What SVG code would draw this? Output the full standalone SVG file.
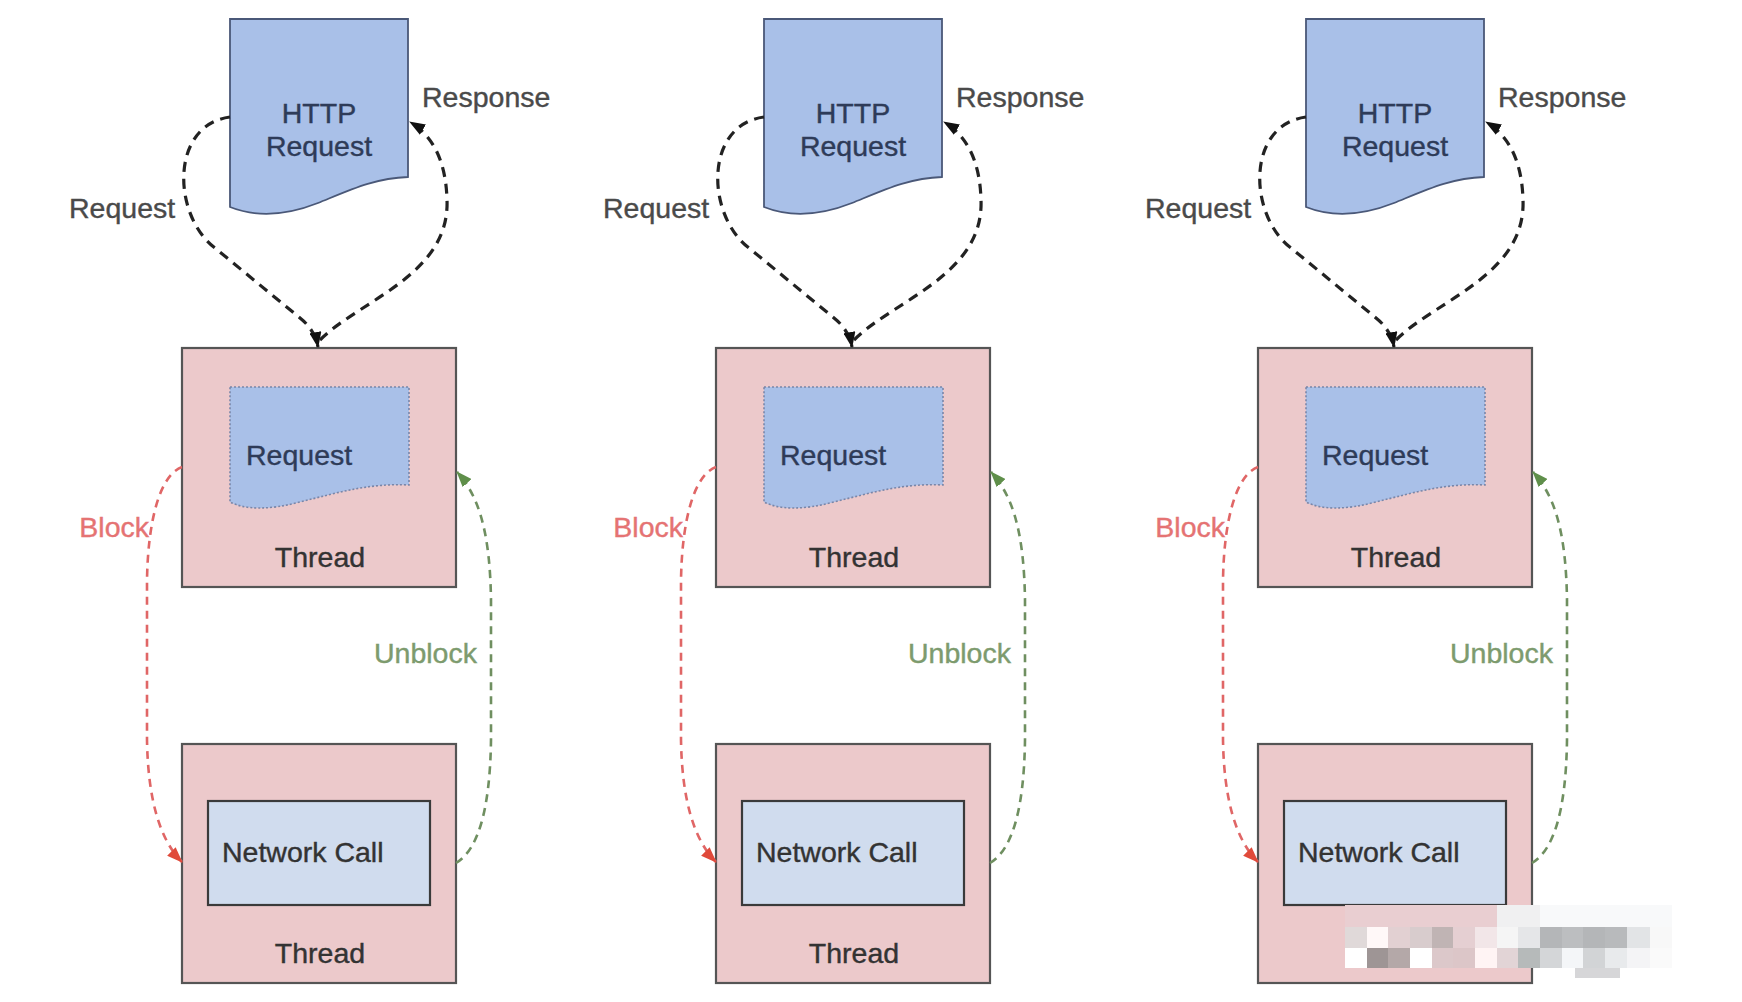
<svg xmlns="http://www.w3.org/2000/svg" width="1742" height="1002" viewBox="0 0 1742 1002">
<style>
.txt{font-family:"Liberation Sans",Arial,sans-serif;font-size:28.5px;stroke-width:0.4px}
.lbl{fill:#4a4a4a;stroke:#4a4a4a}
.navy{fill:#2e3b58;stroke:#2e3b58}
.dark{fill:#333;stroke:#333}
.red{fill:#e57373;stroke:#e57373}
.green{fill:#7d9b6e;stroke:#7d9b6e}
.doc{fill:#a9c0e8;stroke:#4a5878;stroke-width:1.8}
.idoc{fill:#a9c0e8;stroke:#7a86a8;stroke-width:1.6;stroke-dasharray:2 2}
.thread{fill:#ecc9cb;stroke:#555;stroke-width:2.2}
.net{fill:#d0dcee;stroke:#3a3a3a;stroke-width:2.2}
.cblack{fill:none;stroke:#222;stroke-width:3.2;stroke-dasharray:10 7}
.cred{fill:none;stroke:#e06666;stroke-width:2.6;stroke-dasharray:8 6}
.cgreen{fill:none;stroke:#6f8f60;stroke-width:2.6;stroke-dasharray:8 6}
</style>
<defs>
<marker id="ahBlack" markerUnits="userSpaceOnUse" markerWidth="16" markerHeight="12" refX="15" refY="6" orient="auto"><path d="M0,0 L16,6 L0,12 z" fill="#111"/></marker>
<marker id="ahRed" markerUnits="userSpaceOnUse" markerWidth="16" markerHeight="12" refX="15" refY="6" orient="auto"><path d="M0,0 L16,6 L0,12 z" fill="#e04a3a"/></marker>
<marker id="ahGreen" markerUnits="userSpaceOnUse" markerWidth="16" markerHeight="12" refX="15" refY="6" orient="auto"><path d="M0,0 L16,6 L0,12 z" fill="#5f8f4a"/></marker>
</defs>
<rect width="1742" height="1002" fill="#fff"/>

<!-- Column 1 -->
<g id="column-1">
<g id="http-request-1">
<path class="doc" d="M230,19 H408 V177 C375,178 350,190 318,203 C285,216 255,217 230,207 Z"/>
<text class="txt navy" x="319" y="123" text-anchor="middle">HTTP</text>
<text class="txt navy" x="319" y="156" text-anchor="middle">Request</text>
</g>
<g id="thread-top-1">
<rect class="thread" x="182" y="348" width="274" height="239"/>
<path class="idoc" d="M230,387 H409 V485 C370,483 340,492 300,502 C270,510 245,510 230,502 Z"/>
<text class="txt navy" x="246" y="465">Request</text>
<text class="txt dark" x="320" y="567" text-anchor="middle">Thread</text>
</g>
<g id="thread-bottom-1">
<rect class="thread" x="182" y="744" width="274" height="239"/>
<rect class="net" x="208" y="801" width="222" height="104"/>
<text class="txt dark" x="222" y="862">Network Call</text>
<text class="txt dark" x="320" y="963" text-anchor="middle">Thread</text>
</g>
</g>

<!-- Column 2 -->
<g id="column-2" transform="translate(534,0)">
<g id="http-request-2">
<path class="doc" d="M230,19 H408 V177 C375,178 350,190 318,203 C285,216 255,217 230,207 Z"/>
<text class="txt navy" x="319" y="123" text-anchor="middle">HTTP</text>
<text class="txt navy" x="319" y="156" text-anchor="middle">Request</text>
</g>
<g id="thread-top-2">
<rect class="thread" x="182" y="348" width="274" height="239"/>
<path class="idoc" d="M230,387 H409 V485 C370,483 340,492 300,502 C270,510 245,510 230,502 Z"/>
<text class="txt navy" x="246" y="465">Request</text>
<text class="txt dark" x="320" y="567" text-anchor="middle">Thread</text>
</g>
<g id="thread-bottom-2">
<rect class="thread" x="182" y="744" width="274" height="239"/>
<rect class="net" x="208" y="801" width="222" height="104"/>
<text class="txt dark" x="222" y="862">Network Call</text>
<text class="txt dark" x="320" y="963" text-anchor="middle">Thread</text>
</g>
</g>

<!-- Column 3 -->
<g id="column-3" transform="translate(1076,0)">
<g id="http-request-3">
<path class="doc" d="M230,19 H408 V177 C375,178 350,190 318,203 C285,216 255,217 230,207 Z"/>
<text class="txt navy" x="319" y="123" text-anchor="middle">HTTP</text>
<text class="txt navy" x="319" y="156" text-anchor="middle">Request</text>
</g>
<g id="thread-top-3">
<rect class="thread" x="182" y="348" width="274" height="239"/>
<path class="idoc" d="M230,387 H409 V485 C370,483 340,492 300,502 C270,510 245,510 230,502 Z"/>
<text class="txt navy" x="246" y="465">Request</text>
<text class="txt dark" x="320" y="567" text-anchor="middle">Thread</text>
</g>
<g id="thread-bottom-3">
<rect class="thread" x="182" y="744" width="274" height="239"/>
<rect class="net" x="208" y="801" width="222" height="104"/>
<text class="txt dark" x="222" y="862">Network Call</text>
</g>
</g>

<!-- Connectors -->
<g id="connectors">
<g id="connectors-1">
<path class="cblack" marker-end="url(#ahBlack)" d="M230,117 C170,125 172,215 215,248 L300,318 Q315,330 318,347"/>
<path class="cblack" marker-end="url(#ahBlack)" d="M320,340 C360,300 450,275 447,200 C446,160 432,135 410,122"/>
<path class="cred" marker-end="url(#ahRed)" d="M182,467 C160,475 148,520 147,580 L147,740 C148,800 160,840 182,862"/>
<path class="cgreen" marker-end="url(#ahGreen)" d="M456,863 C478,850 490,810 491,740 L491,600 C490,530 478,495 457,472"/>
<text class="txt lbl" x="69" y="218">Request</text>
<text class="txt lbl" x="422" y="107">Response</text>
<text class="txt red" x="149" y="537" text-anchor="end">Block</text>
<text class="txt green" x="374" y="663">Unblock</text>
</g>
<g id="connectors-2" transform="translate(534,0)">
<path class="cblack" marker-end="url(#ahBlack)" d="M230,117 C170,125 172,215 215,248 L300,318 Q315,330 318,347"/>
<path class="cblack" marker-end="url(#ahBlack)" d="M320,340 C360,300 450,275 447,200 C446,160 432,135 410,122"/>
<path class="cred" marker-end="url(#ahRed)" d="M182,467 C160,475 148,520 147,580 L147,740 C148,800 160,840 182,862"/>
<path class="cgreen" marker-end="url(#ahGreen)" d="M456,863 C478,850 490,810 491,740 L491,600 C490,530 478,495 457,472"/>
<text class="txt lbl" x="69" y="218">Request</text>
<text class="txt lbl" x="422" y="107">Response</text>
<text class="txt red" x="149" y="537" text-anchor="end">Block</text>
<text class="txt green" x="374" y="663">Unblock</text>
</g>
<g id="connectors-3" transform="translate(1076,0)">
<path class="cblack" marker-end="url(#ahBlack)" d="M230,117 C170,125 172,215 215,248 L300,318 Q315,330 318,347"/>
<path class="cblack" marker-end="url(#ahBlack)" d="M320,340 C360,300 450,275 447,200 C446,160 432,135 410,122"/>
<path class="cred" marker-end="url(#ahRed)" d="M182,467 C160,475 148,520 147,580 L147,740 C148,800 160,840 182,862"/>
<path class="cgreen" marker-end="url(#ahGreen)" d="M456,863 C478,850 490,810 491,740 L491,600 C490,530 478,495 457,472"/>
<text class="txt lbl" x="69" y="218">Request</text>
<text class="txt lbl" x="422" y="107">Response</text>
<text class="txt red" x="149" y="537" text-anchor="end">Block</text>
<text class="txt green" x="374" y="663">Unblock</text>
</g>
</g>

<!-- Pixelated watermark -->
<g id="mosaic">
<rect x="1345" y="905" width="152" height="22" fill="#e9ced1"/>
<rect x="1497" y="905" width="43" height="22" fill="#f0f0f1"/>
<rect x="1540" y="905" width="132" height="22" fill="#f8f9fa"/>
<rect x="1345" y="927" width="22" height="21" fill="#e0d9d9"/>
<rect x="1367" y="927" width="21" height="21" fill="#fff8f8"/>
<rect x="1388" y="927" width="22" height="21" fill="#e2d0d2"/>
<rect x="1410" y="927" width="22" height="21" fill="#d8cccd"/>
<rect x="1432" y="927" width="21" height="21" fill="#c0b4b4"/>
<rect x="1453" y="927" width="22" height="21" fill="#e5cfd2"/>
<rect x="1475" y="927" width="22" height="21" fill="#f2e6e8"/>
<rect x="1497" y="927" width="21" height="21" fill="#f5f5f5"/>
<rect x="1518" y="927" width="22" height="21" fill="#e5e6e8"/>
<rect x="1540" y="927" width="22" height="21" fill="#b4b6b8"/>
<rect x="1562" y="927" width="21" height="21" fill="#bcbec0"/>
<rect x="1583" y="927" width="22" height="21" fill="#b4b6b8"/>
<rect x="1605" y="927" width="22" height="21" fill="#b8babc"/>
<rect x="1627" y="927" width="23" height="21" fill="#e2e4e6"/>
<rect x="1650" y="927" width="22" height="21" fill="#f8f8f8"/>
<rect x="1345" y="948" width="22" height="20" fill="#ffffff"/>
<rect x="1367" y="948" width="21" height="20" fill="#9e9595"/>
<rect x="1388" y="948" width="22" height="20" fill="#b4a8a8"/>
<rect x="1410" y="948" width="22" height="20" fill="#ffffff"/>
<rect x="1432" y="948" width="21" height="20" fill="#dcc8ca"/>
<rect x="1453" y="948" width="22" height="20" fill="#dcc6c8"/>
<rect x="1475" y="948" width="22" height="20" fill="#fff4f4"/>
<rect x="1497" y="948" width="21" height="20" fill="#e2d4d6"/>
<rect x="1518" y="948" width="22" height="20" fill="#b6baba"/>
<rect x="1540" y="948" width="22" height="20" fill="#d4d6d8"/>
<rect x="1562" y="948" width="21" height="20" fill="#f4f6f8"/>
<rect x="1583" y="948" width="22" height="20" fill="#d2d4d6"/>
<rect x="1605" y="948" width="22" height="20" fill="#e8eaec"/>
<rect x="1627" y="948" width="23" height="20" fill="#f4f4f6"/>
<rect x="1650" y="948" width="22" height="20" fill="#fafafa"/>
<rect x="1575" y="968" width="45" height="10" fill="#d6d6d8"/>
</g>
</svg>
